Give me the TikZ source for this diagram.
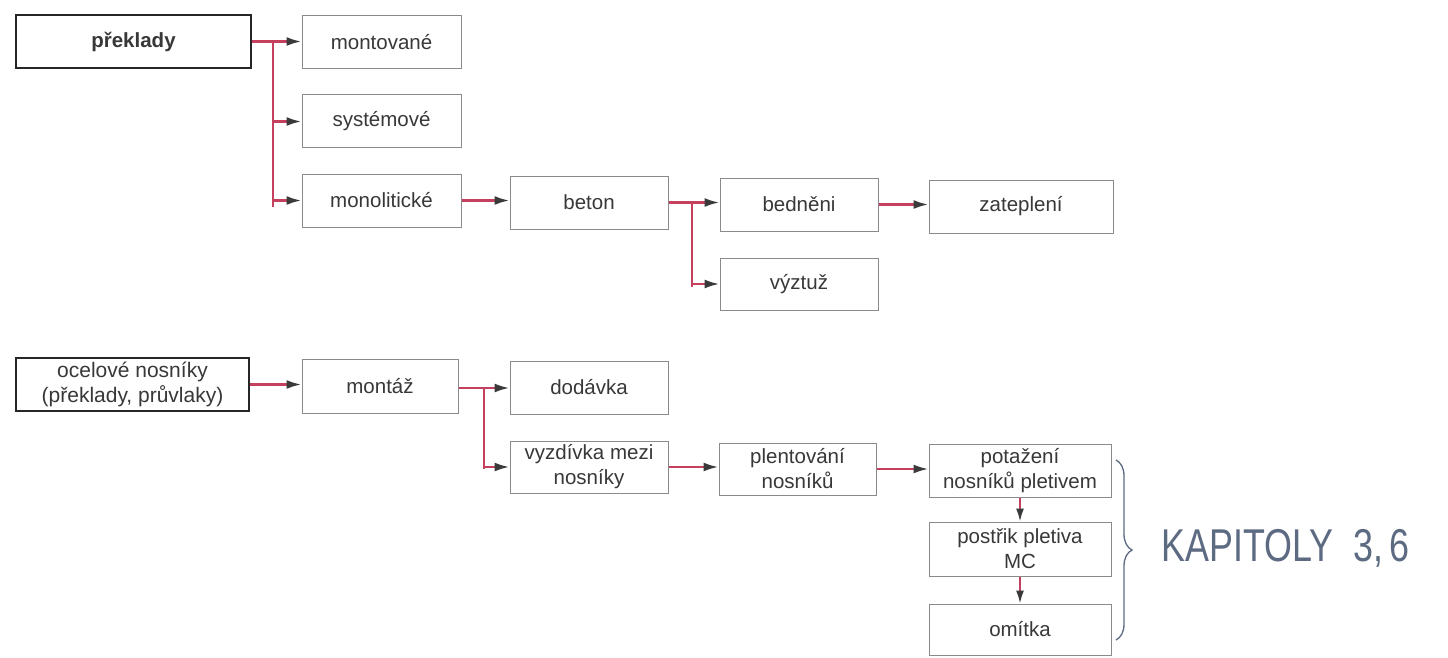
\documentclass[tikz,border=0pt]{standalone}
\usepackage{fontspec}
\setmainfont{Liberation Sans}
\usetikzlibrary{arrows.meta,decorations.pathreplacing,calc}
\definecolor{lred}{HTML}{C4405E}
\definecolor{tipc}{HTML}{3A3A3A}
\definecolor{bordc}{HTML}{8A8A8A}
\definecolor{hand}{HTML}{5C6A82}
\begin{document}
\begin{tikzpicture}[x=1pt,y=-1pt,
  box/.style={draw=bordc,line width=1pt,inner sep=0pt,align=center,font=\fontsize{20.5}{25}\selectfont,text=black!78},
  topbox/.style={box,draw=black!85,line width=1.6pt},
  conn/.style={draw=lred,line width=2.4pt},
  arr/.style={conn,-{Latex[length=15pt,width=9pt,color=tipc]}},
  varr/.style={draw=lred,line width=1.8pt,-{Latex[length=13pt,width=8pt,color=tipc]}},
  vline/.style={draw=lred,line width=2pt}]
\useasboundingbox[fill=white] (0,0) rectangle (1448,658);
% top group
\node[topbox,minimum width=235pt,minimum height=53pt,font=\bfseries\fontsize{20.5}{25}\selectfont] (prek) at (133.5,41.5) {překlady};
\node[box,minimum width=159pt,minimum height=53pt] (mont) at (381.5,42.5) {montované};
\node[box,minimum width=159pt,minimum height=53pt] (sys) at (381.5,121.5) {systémové};
\node[box,minimum width=159pt,minimum height=53pt] (mono) at (381.5,200.5) {monolitické};
\node[box,minimum width=158pt,minimum height=53pt] (beton) at (589,202.5) {beton};
\node[box,minimum width=158pt,minimum height=53pt] (bedn) at (799,204.5) {bedněni};
\node[box,minimum width=184pt,minimum height=53pt] (zat) at (1021,206.5) {zateplení};
\node[box,minimum width=158pt,minimum height=52pt] (vyz) at (799,284) {výztuž};
% bottom group
\node[topbox,minimum width=233pt,minimum height=53pt,font=\fontsize{21}{25}\selectfont] (ocel) at (132.5,384.5) {ocelové nosníky\\(překlady, průvlaky)};
\node[box,minimum width=156pt,minimum height=54pt] (montaz) at (380,386) {montáž};
\node[box,minimum width=158pt,minimum height=53pt] (dod) at (589,387.5) {dodávka};
\node[box,minimum width=158pt,minimum height=52pt] (vyzd) at (589,467) {vyzdívka mezi\\nosníky};
\node[box,minimum width=157pt,minimum height=52pt] (plent) at (797.5,469) {plentování\\nosníků};
\node[box,minimum width=182pt,minimum height=53pt] (potaz) at (1020,470.5) {potažení\\nosníků pletivem};
\node[box,minimum width=182pt,minimum height=54pt] (post) at (1020,549) {postřik pletiva\\MC};
\node[box,minimum width=182pt,minimum height=51pt] (omit) at (1020,629.5) {omítka};
% connectors top
\coordinate (t1) at (273,41.5);
\coordinate (t1b) at (273,207);
\draw[vline] (t1) -- (t1b);
\draw[arr] (prek.east) -- (prek.east -| mont.west);
\draw[arr] (t1 |- sys.west) -- (sys.west);
\draw[arr] (t1 |- mono.west) -- (mono.west);
\draw[arr] (mono.east) -- (mono.east -| beton.west);
\coordinate (t2) at (692,203);
\coordinate (t2b) at (692,287);
\draw[vline] (t2) -- (t2b);
\draw[arr] (beton.east) -- (beton.east -| bedn.west);
\draw[arr] (t2 |- vyz.west) -- (vyz.west);
\draw[arr] (bedn.east) -- (bedn.east -| zat.west);
% connectors bottom
\draw[arr] (ocel.east) -- (ocel.east -| montaz.west);
\coordinate (t3) at (484,388);
\coordinate (t3b) at (484,469);
\draw[vline] (t3) -- (t3b);
\draw[arr] (montaz.east |- t3) -- (t3 -| dod.west);
\draw[arr] (t3 |- vyzd.west) -- (vyzd.west);
\draw[arr] (vyzd.east) -- (vyzd.east -| plent.west);
\draw[arr] (plent.east) -- (plent.east -| potaz.west);
\draw[varr] (potaz.south) -- (post.north);
\draw[varr] (post.south) -- (omit.north);
% brace and handwritten note
\coordinate (b1) at (1116,460);
\coordinate (b2) at (1116,640);
\draw[hand,line width=1.3pt,decorate,decoration={brace,amplitude=16pt}] (b1) -- (b2);
\node[text=hand,anchor=west,font=\fontsize{46}{50}\selectfont] (kap) at (1158,548) {\scalebox{0.78}[1]{KAPITOLY\ \ 3,\,6}};
\end{tikzpicture}
\end{document}
